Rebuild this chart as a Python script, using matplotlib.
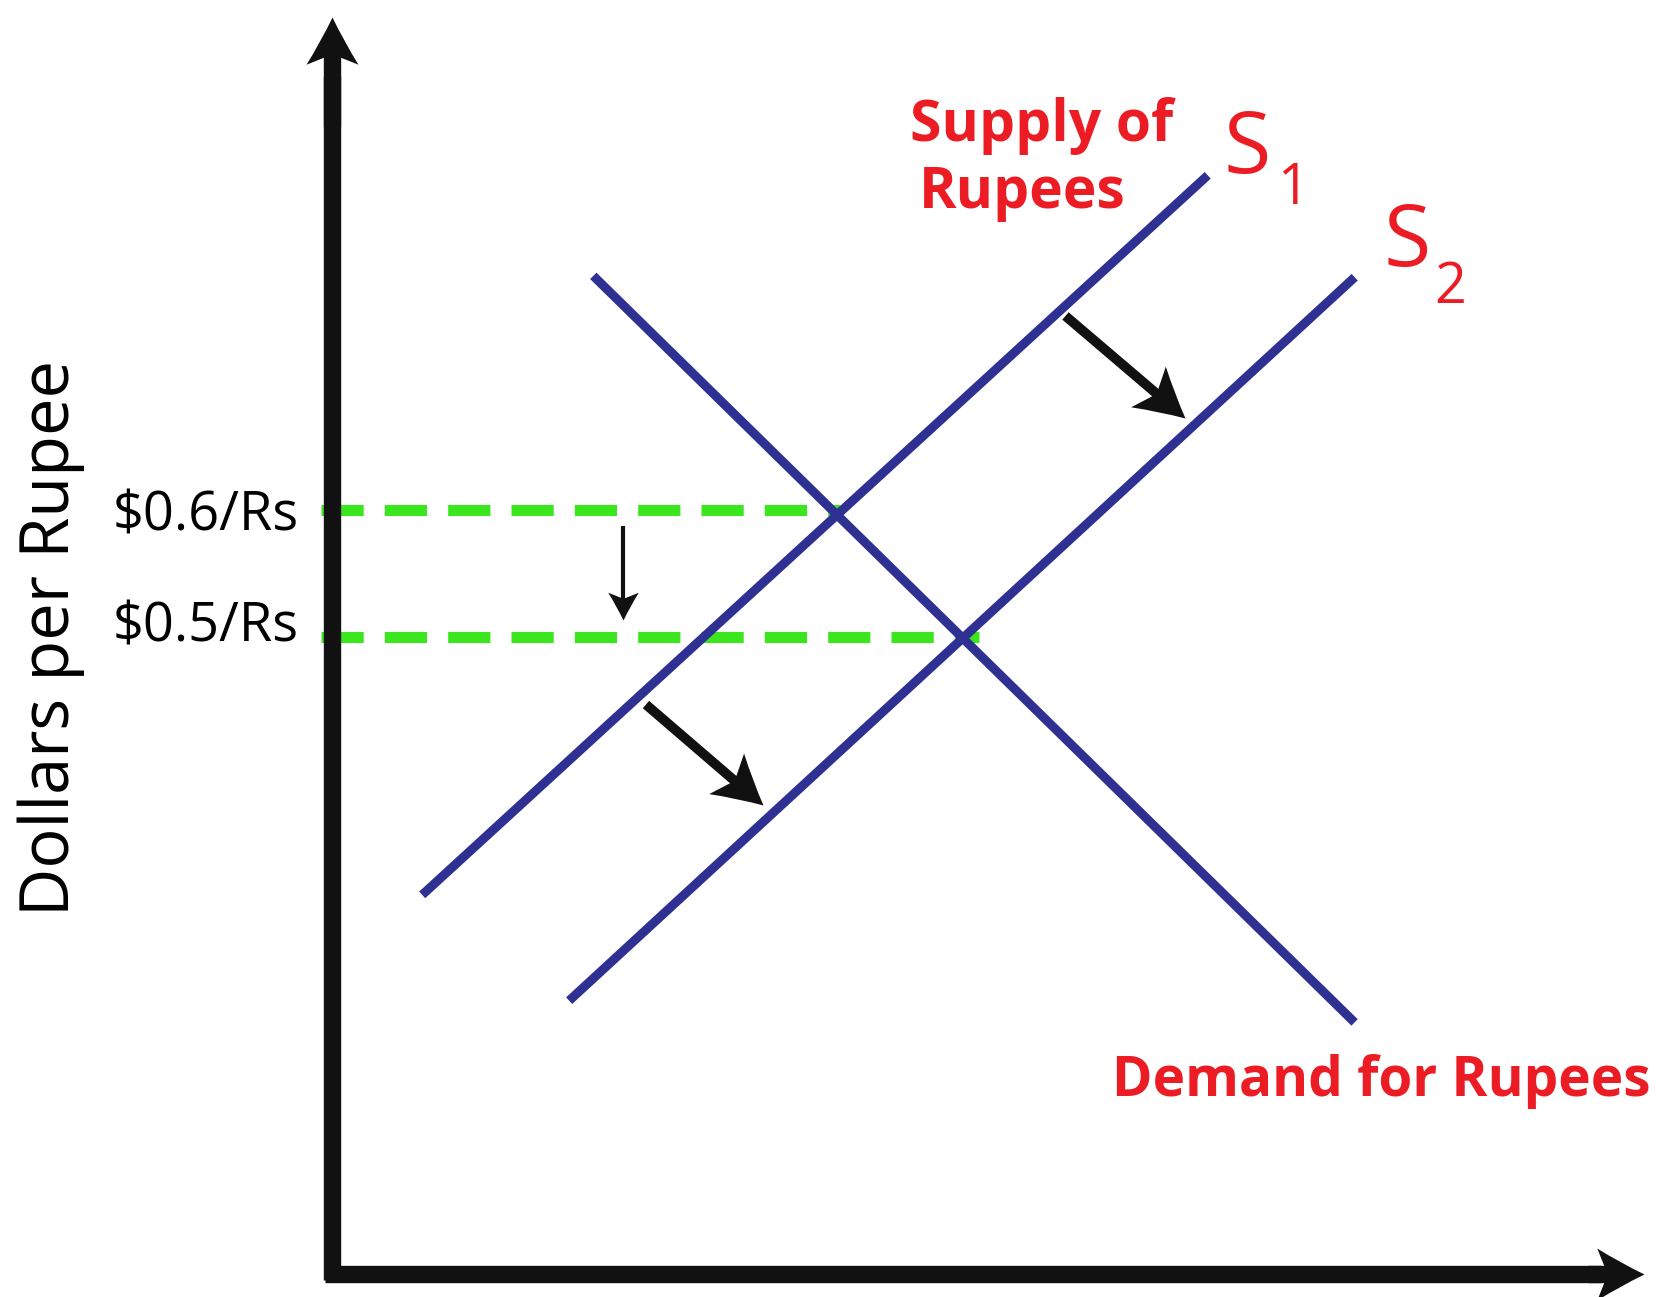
import numpy as np
import matplotlib
matplotlib.use("Agg")
import matplotlib.pyplot as plt
from matplotlib.path import Path
from matplotlib.markers import MarkerStyle
from matplotlib.transforms import Affine2D

plt.rcParams['font.family'] = ['Open Sans', 'DejaVu Sans']

# curve end points (quantity of rupees, dollars per rupee)
s1_q = [0.70, 6.53]
s1_p = [0.300, 0.860]
s2_q = [1.80, 7.63]
s2_p = [0.217, 0.780]
d_q = [1.98, 7.63]
d_p = [0.781, 0.200]

# equilibrium prices and where the dashed guides stop
prices = [0.6, 0.5]
price_labels = ['$0.6/Rs', '$0.5/Rs']
eq_q = [3.80, 4.84]

# shift arrows (start, tip)
shift_arrows = [((5.49, 0.752), (6.385, 0.672)),
                ((2.35, 0.447), (3.226, 0.368))]
price_arrow = ((2.18, 0.587), (2.18, 0.513))

blue = '#2e3192'
red = '#ec1c24'
green = '#3ce61e'
black = '#111111'

fig = plt.figure(figsize=(16.68, 12.97), dpi=100)
ax = fig.add_axes([0, 0, 1, 1])
ax.set_xlim(-2.485, 10.0)
ax.set_ylim(-0.018, 1.0)
ax.axis('off')

# notched arrow head pointing to +x, tip at origin
head_path = Path([(0, 0), (-0.5, 0.24), (-1, 0.55), (-0.78, 0), (-1, -0.55), (-0.5, -0.24), (0, 0), (0, 0)],
                 [Path.MOVETO, Path.CURVE3, Path.CURVE3, Path.LINETO, Path.LINETO,
                  Path.CURVE3, Path.CURVE3, Path.CLOSEPOLY])


def arrow(start, tip, lw, ms, color=black, z=5):
    p0 = ax.transData.transform(start)
    p1 = ax.transData.transform(tip)
    ang = np.degrees(np.arctan2(p1[1] - p0[1], p1[0] - p0[0]))
    # stop the shaft inside the head
    frac = 1 - (ms * 0.5 * 0.6 * 100 / 72) / np.hypot(*(p1 - p0))
    end = (start[0] + (tip[0] - start[0]) * frac, start[1] + (tip[1] - start[1]) * frac)
    ax.plot([start[0], end[0]], [start[1], end[1]], color=color, lw=lw,
            solid_capstyle='butt', zorder=z)
    m = MarkerStyle(head_path, transform=Affine2D().rotate_deg(ang))
    ax.plot([tip[0]], [tip[1]], marker=m, markersize=ms, color=color,
            markeredgewidth=0, linestyle='none', zorder=z)


# green dashed price lines
for p, q in zip(prices, eq_q):
    ax.plot([-0.08, q], [p, p], color=green, lw=8, linestyle=(0, (3.8, 1.9)), zorder=2)

# supply and demand curves
ax.plot(s1_q, s1_p, color=blue, lw=6.5, zorder=3)
ax.plot(s2_q, s2_p, color=blue, lw=6.5, zorder=3)
ax.plot(d_q, d_p, color=blue, lw=6.5, zorder=3)

# axes with arrow heads
ax.plot([0, 0], [-0.005, 0.94], color=black, lw=12.5, solid_capstyle='butt', zorder=6)
ax.plot([-0.05, 9.5], [0, 0], color=black, lw=12.5, solid_capstyle='butt', zorder=6)
arrow((0, 0.9), (0, 0.987), 12.5, 68, z=6)
arrow((9.4, 0), (9.82, 0), 12.5, 68, z=6)

for a, b in shift_arrows:
    arrow(a, b, 7, 70)
arrow(price_arrow[0], price_arrow[1], 3, 40)

# labels
label_dy = [-0.005, 0.008]
for p, lab, dy in zip(prices, price_labels, label_dy):
    ax.text(-0.25, p + dy, lab, ha='right', va='center', fontsize=39, color='black')

ax.text(-2.10, 0.499, 'Dollars per Rupee', rotation=90, ha='center', va='center',
        fontsize=48, color='black')

ax.text(5.31, 0.889, 'Supply of', ha='center', va='baseline', fontsize=41,
        fontweight='bold', color=red)
ax.text(5.17, 0.837, 'Rupees', ha='center', va='baseline', fontsize=41,
        fontweight='bold', color=red)
ax.text(5.84, 0.1397, 'Demand for Rupees', ha='left', va='baseline', fontsize=39.5,
        fontweight='bold', color=red)

ax.text(6.67, 0.864, 'S', ha='left', va='baseline', fontsize=62, color=red)
ax.text(7.07, 0.840, '1', ha='left', va='baseline', fontsize=40, color=red)
ax.text(7.87, 0.791, 'S', ha='left', va='baseline', fontsize=62, color=red)
ax.text(8.25, 0.762, '2', ha='left', va='baseline', fontsize=40, color=red)

fig.savefig('out.png', dpi=100, facecolor='white')
